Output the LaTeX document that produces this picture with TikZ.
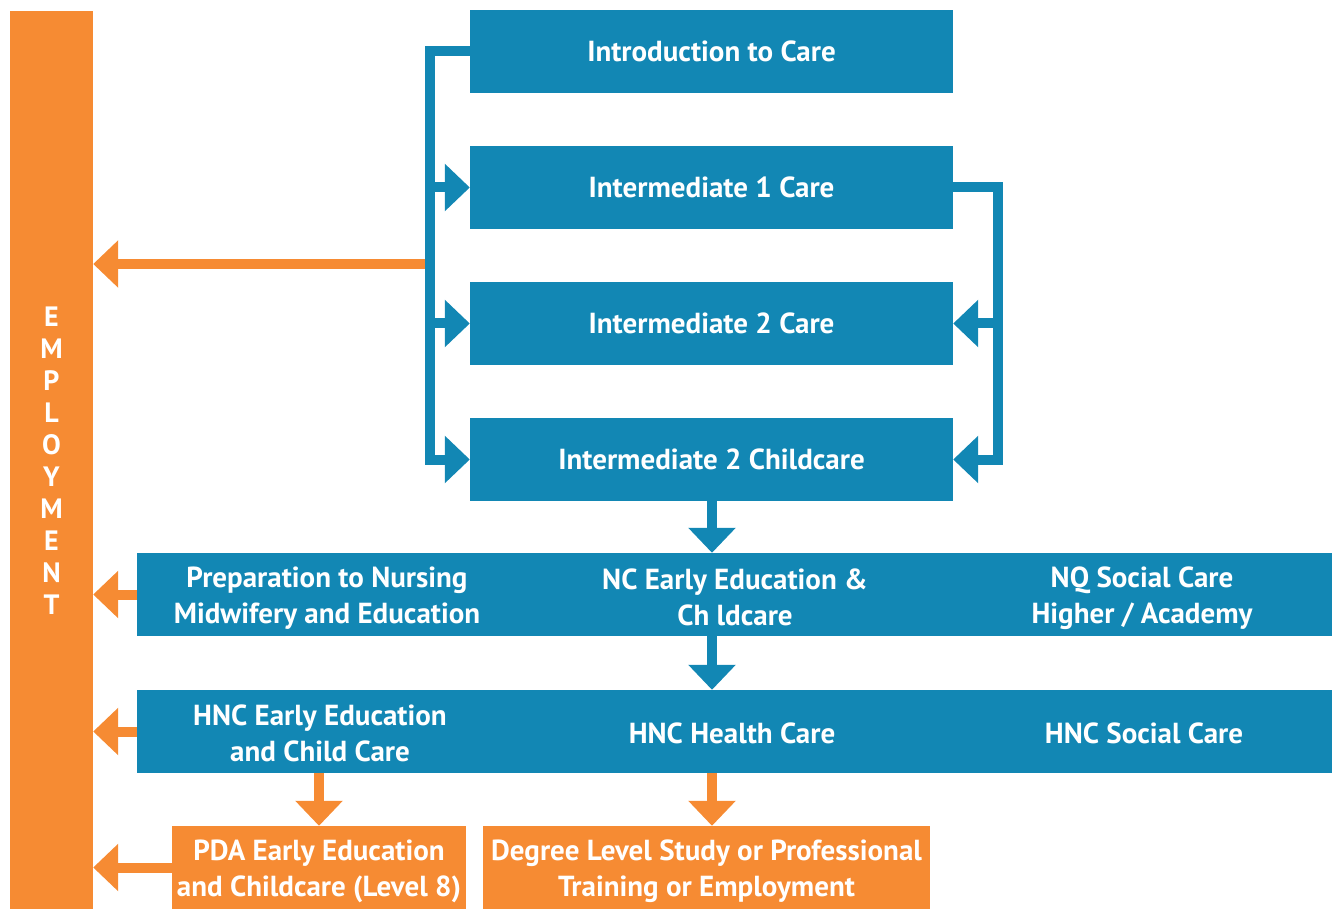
\documentclass[tikz,border=0pt]{standalone}
\usepackage{fontspec}
\setmainfont{PT Sans}
\usetikzlibrary{arrows.meta}
\usetikzlibrary{positioning}
\definecolor{careblue}{RGB}{18,135,180}
\definecolor{careorange}{RGB}{246,139,51}

\begin{document}
\begin{tikzpicture}[x=1pt, y=-1pt,
    box/.style={fill=careblue, text=white, inner sep=0pt, minimum width=483pt, minimum height=83pt,
      font=\fontsize{29}{36}\selectfont\bfseries, align=center},
    obox/.style={box, fill=careorange},
    label/.style={text=white, font=\fontsize{29}{36}\selectfont\bfseries, align=center},
    bline/.style={careblue, line width=10pt},
    oline/.style={careorange, line width=10pt},
    tip/.style={-{Triangle[width=46pt, length=25pt]}}]
  \useasboundingbox (0,0) rectangle (1336,909);
  % employment bar
  \node[obox, minimum width=83pt, minimum height=899pt, font=\fontsize{28}{32}\selectfont\bfseries]
    (emp) at (51.5,460.5) {E\\M\\P\\L\\O\\Y\\M\\E\\N\\T};
  % care levels
  \node[box] (intro) at (711.5,51.5) {Introduction to Care};
  \node[box] (int1) at (711.5,187.5) {Intermediate 1 Care};
  \node[box] (int2) at (711.5,323.5) {Intermediate 2 Care};
  \node[box] (int2c) at (711.5,459.5) {Intermediate 2 Childcare};
  % bands
  \node[box, minimum width=1195pt] (row2) at (734.5,594.5) {};
  \node[label] (prep) at (327,598.5) {Preparation to Nursing\\Midwifery and Education};
  \node[label] (nced) at (735,597) {NC Early Education \&\\Ch ldcare};
  \node[label] (nq) at (1142,598.5) {NQ Social Care\\Higher / Academy};
  \node[box, minimum width=1195pt] (row3) at (734.5,731.5) {};
  \node[label] (hnced) at (320,733.5) {HNC Early Education\\and Child Care};
  \node[label] (hnchc) at (732,733) {HNC Health Care};
  \node[label] (hncsc) at (1144,733) {HNC Social Care};
  \node[obox, minimum width=294pt] (pda) at (319,867.5) {};
  \node[label] at (319,871.5) {PDA Early Education\\and Childcare (Level 8)};
  \node[obox, minimum width=447pt] (degree) at (706.5,867.5) {};
  \node[label] at (706.5,871.5) {Degree Level Study or Professional\\Training or Employment};

  \coordinate (lb) at (430,0);
  \coordinate (rb) at (998,0);
  \coordinate (mid) at (712,0);
  \coordinate (join) at (430,264);
  % to employment
  \draw[oline, tip] (join) -- (join -| emp.east);
  \foreach \n in {row2, row3, pda}{
    \draw[oline, tip] (\n.west) -- (\n.west -| emp.east);
  }
  % left bracket
  \draw[bline, tip] (intro.west) -- (lb |- intro.west) |- (int2c.west);
  \foreach \n in {int1, int2}{
    \draw[bline, tip] (lb |- \n.west) -- (\n.west);
  }
  % right bracket
  \draw[bline, tip] (int1.east) -| (rb |- int2c.east) -- (int2c.east);
  \draw[bline, tip] (rb |- int2.east) -- (int2.east);
  % down
  \draw[bline, tip] (mid |- int2c.south) -- (mid |- row2.north);
  \draw[bline, tip] (mid |- row2.south) -- (mid |- row3.north);
  \draw[oline, tip] (pda.north |- row3.south) -- (pda.north);
  \draw[oline, tip] (mid |- row3.south) -- (mid |- degree.north);
\end{tikzpicture}
\end{document}
